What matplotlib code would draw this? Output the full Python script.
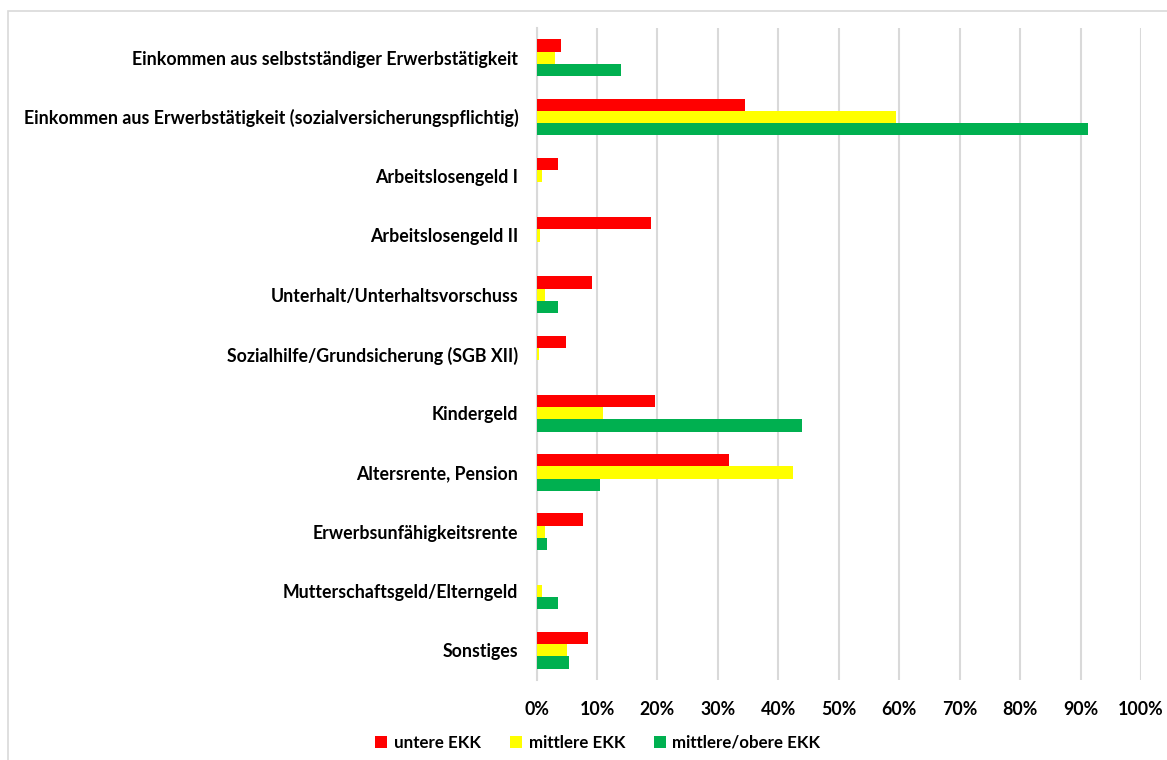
import numpy as np
import matplotlib
matplotlib.use('Agg')
import matplotlib.pyplot as plt
import matplotlib.ticker as mticker
from matplotlib.patches import Rectangle

plt.rcParams['font.family'] = ['Lato', 'DejaVu Sans']
plt.rcParams['font.weight'] = 'bold'

categories = ['Einkommen aus selbstständiger Erwerbstätigkeit',
              'Einkommen aus Erwerbstätigkeit (sozialversicherungspflichtig)',
              'Arbeitslosengeld I',
              'Arbeitslosengeld II',
              'Unterhalt/Unterhaltsvorschuss',
              'Sozialhilfe/Grundsicherung (SGB XII)',
              'Kindergeld',
              'Altersrente, Pension',
              'Erwerbsunfähigkeitsrente',
              'Mutterschaftsgeld/Elterngeld',
              'Sonstiges']

untere = [4.1, 34.5, 3.5, 18.9, 9.1, 4.9, 19.6, 31.8, 7.7, 0.0, 8.5]
mittlere = [3.1, 59.4, 0.9, 0.5, 1.4, 0.4, 11.0, 42.4, 1.4, 0.9, 5.0]
obere = [13.9, 91.3, 0.0, 0.0, 3.5, 0.0, 43.9, 10.5, 1.7, 3.5, 5.3]

series = [('untere EKK', untere, '#FF0000'),
          ('mittlere EKK', mittlere, '#FFFF00'),
          ('mittlere/obere EKK', obere, '#00B050')]

fs = 12.8

fig = plt.figure(figsize=(11.67, 7.6), dpi=100)
ax = fig.add_axes([536.5/1167, 80/760, 604.5/1167, 652/760])

# outer chart frame (cut off at right and bottom)
fig.patches.append(Rectangle((8/1167, -0.1), 1.2, (760-11)/760 + 0.1,
                             transform=fig.transFigure, fill=False,
                             edgecolor='#d9d9d9', lw=1.2, clip_on=False))

y = np.arange(len(categories))
h = 0.207
for i, (lab, vals, col) in enumerate(series):
    ax.barh(y + (i - 1) * h, vals, height=h, color=col, label=lab, zorder=3)

ax.set_ylim(len(categories) - 0.5, -0.5)
ax.set_xlim(0, 100)
ax.set_yticks(y)
ax.set_yticklabels(categories, fontsize=fs, fontweight='bold')
ax.xaxis.set_major_locator(mticker.MultipleLocator(10))
ax.xaxis.set_major_formatter(mticker.FuncFormatter(lambda v, p: '%d%%' % v))
ax.tick_params(axis='x', length=0, pad=15, labelsize=fs)
ax.tick_params(axis='y', length=0, pad=13)
for t in ax.get_xticklabels():
    t.set_fontweight('bold')

ax.grid(axis='x', color='#d9d9d9', lw=1.5, zorder=0)
for s in ['top', 'right', 'bottom']:
    ax.spines[s].set_visible(False)
ax.spines['left'].set_color('#d9d9d9')
ax.spines['left'].set_linewidth(1.5)

leg = fig.legend(loc='center', bbox_to_anchor=(598/1167, (760-743)/760), ncol=3,
                 frameon=False, fontsize=12.2, handlelength=0.7, handleheight=0.7,
                 handletextpad=0.4, columnspacing=1.7)
for t in leg.get_texts():
    t.set_fontweight('bold')

fig.savefig('out.png', dpi=100)
